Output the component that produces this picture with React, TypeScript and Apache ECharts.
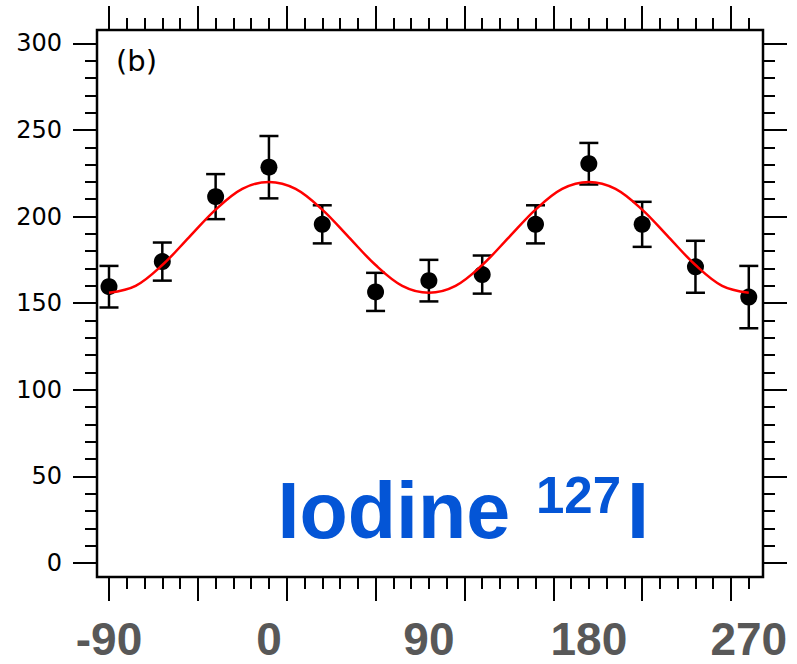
import React, { useEffect, useRef } from "react";
import * as echarts from "echarts";

// Measured data (phase in degrees, counts)
const phases = [-90, -60, -30, 0, 30, 60, 90, 120, 150, 180, 210, 240, 270];
const counts = [159.5, 174, 211.5, 228.5, 195.5, 156.5, 163, 166.5, 195.5, 230.5, 195.5, 171, 153.5];
const errors = [12, 11, 13, 18, 11, 11, 12, 11, 11, 12, 13, 15, 18];

// Fitted curve, every 15 degrees
const fitPhases = [-90, -75, -60, -45, -30, -15, 0, 15, 30, 45, 60, 75, 90, 105, 120, 135, 150, 165, 180, 195, 210, 225, 240, 255, 270];
const fitValues = [156, 160, 172, 188, 204, 216, 220, 216, 204, 188, 172, 160, 156, 160, 172, 188, 204, 216, 220, 216, 204, 188, 172, 160, 156];

// Axis ticks and labels
const xTickLabels = [-90, 0, 90, 180, 270];
const xMajorTicks = [-90, -40, 10, 60, 110, 160, 210, 260];
const yTickLabels = [0, 50, 100, 150, 200, 250, 300];

const xMinorTicks: number[] = [];
for (let v = -90; v <= 270; v += 10) if (!xMajorTicks.includes(v)) xMinorTicks.push(v);
const yMinorTicks: number[] = [];
for (let v = 0; v <= 300; v += 10) if (!yTickLabels.includes(v)) yMinorTicks.push(v);

const X_MIN = -96.75;
const X_MAX = 278;
const Y_MIN = -8.1;
const Y_MAX = 307.7;

const blank = { show: false };
const noLine = { show: false, onZero: false };

function xAxisDef(position: "top" | "bottom", ticks: number[], len: number, labels: boolean) {
  return {
    type: "value",
    position,
    min: X_MIN,
    max: X_MAX,
    axisLine: noLine,
    splitLine: blank,
    axisTick: {
      show: true,
      inside: false,
      length: len,
      customValues: ticks,
      lineStyle: { color: "#000", width: 2 },
    },
    axisLabel: labels
      ? {
          show: true,
          customValues: xTickLabels,
          margin: 42,
          color: "#585858",
          fontFamily: "'Liberation Sans', Arial, sans-serif",
          fontWeight: "bold",
          fontSize: 46,
          lineHeight: 40,
          formatter: (v: number) => String(v),
        }
      : blank,
  };
}

function yAxisDef(position: "left" | "right", ticks: number[], len: number, labels: boolean) {
  return {
    type: "value",
    position,
    min: Y_MIN,
    max: Y_MAX,
    axisLine: noLine,
    splitLine: blank,
    axisTick: {
      show: true,
      inside: false,
      length: len,
      customValues: ticks,
      lineStyle: { color: "#000", width: 2 },
    },
    axisLabel: labels
      ? {
          show: true,
          customValues: yTickLabels,
          margin: 35,
          color: "#000",
          fontFamily: "'DejaVu Sans', sans-serif",
          fontSize: 24,
          formatter: (v: number) => String(v),
        }
      : blank,
  };
}

export default function App() {
  const ref = useRef<HTMLDivElement>(null);

  useEffect(() => {
    if (!ref.current) return;
    const chart = echarts.init(ref.current, undefined, { renderer: "svg" });

    const pointData = phases.map((p, i) => [p, counts[i]]);
    const errData = phases.map((p, i) => [p, counts[i] - errors[i], counts[i] + errors[i]]);
    const fitData = fitPhases.map((p, i) => [p, fitValues[i]]);

    chart.setOption({
      animation: false,
      backgroundColor: "#fff",
      grid: {
        left: 97,
        top: 30,
        width: 666,
        height: 547,
        show: true,
        borderColor: "#000",
        borderWidth: 2.5,
        backgroundColor: "transparent",
      },
      xAxis: [
        xAxisDef("bottom", xMajorTicks, 24, true),
        xAxisDef("bottom", xMinorTicks, 12, false),
        xAxisDef("top", xMajorTicks, 24, false),
        xAxisDef("top", xMinorTicks, 12, false),
      ],
      yAxis: [
        yAxisDef("left", yTickLabels, 24, true),
        yAxisDef("left", yMinorTicks, 12, false),
        yAxisDef("right", yTickLabels, 24, false),
        yAxisDef("right", yMinorTicks, 12, false),
      ],
      series: [
        {
          type: "custom",
          xAxisIndex: 0,
          yAxisIndex: 0,
          z: 2,
          data: errData,
          renderItem: (_params: any, api: any) => {
            const x = api.value(0);
            const lo = api.coord([x, api.value(1)]);
            const hi = api.coord([x, api.value(2)]);
            const hw = 9.5;
            const style = { stroke: "#000", lineWidth: 2.5 };
            return {
              type: "group",
              children: [
                { type: "line", shape: { x1: lo[0], y1: lo[1], x2: hi[0], y2: hi[1] }, style },
                { type: "line", shape: { x1: lo[0] - hw, y1: lo[1], x2: lo[0] + hw, y2: lo[1] }, style },
                { type: "line", shape: { x1: hi[0] - hw, y1: hi[1], x2: hi[0] + hw, y2: hi[1] }, style },
              ],
            };
          },
        },
        {
          type: "scatter",
          xAxisIndex: 0,
          yAxisIndex: 0,
          z: 3,
          symbol: "circle",
          symbolSize: 17,
          itemStyle: { color: "#000", opacity: 1 },
          data: pointData,
        },
        {
          type: "line",
          xAxisIndex: 0,
          yAxisIndex: 0,
          z: 4,
          smooth: 0.35,
          showSymbol: false,
          symbol: "none",
          lineStyle: { color: "#ff0000", width: 2.5 },
          data: fitData,
        },
      ],
      graphic: [
        {
          type: "text",
          left: 116,
          top: 46,
          style: {
            text: "(b)",
            fill: "#000",
            font: "29px 'DejaVu Sans', sans-serif",
          },
        },
        {
          type: "text",
          x: 277.5,
          y: 510,
          style: {
            text: "Iodine",
            fill: "#0455d6",
            font: "bold 79px 'Liberation Sans', Arial, sans-serif",
            verticalAlign: "middle",
            align: "left",
          },
        },
        {
          type: "text",
          x: 536,
          y: 495,
          style: {
            text: "127",
            fill: "#0455d6",
            font: "bold 51px 'Liberation Sans', Arial, sans-serif",
            verticalAlign: "middle",
            align: "left",
          },
        },
        {
          type: "text",
          x: 627,
          y: 510,
          style: {
            text: "I",
            fill: "#0455d6",
            font: "bold 79px 'Liberation Sans', Arial, sans-serif",
            verticalAlign: "middle",
            align: "left",
          },
        },
      ],
    });

    return () => chart.dispose();
  }, []);

  return <div ref={ref} style={{ width: 797, height: 664, position: "absolute", left: 0, top: 0 }} />;
}
